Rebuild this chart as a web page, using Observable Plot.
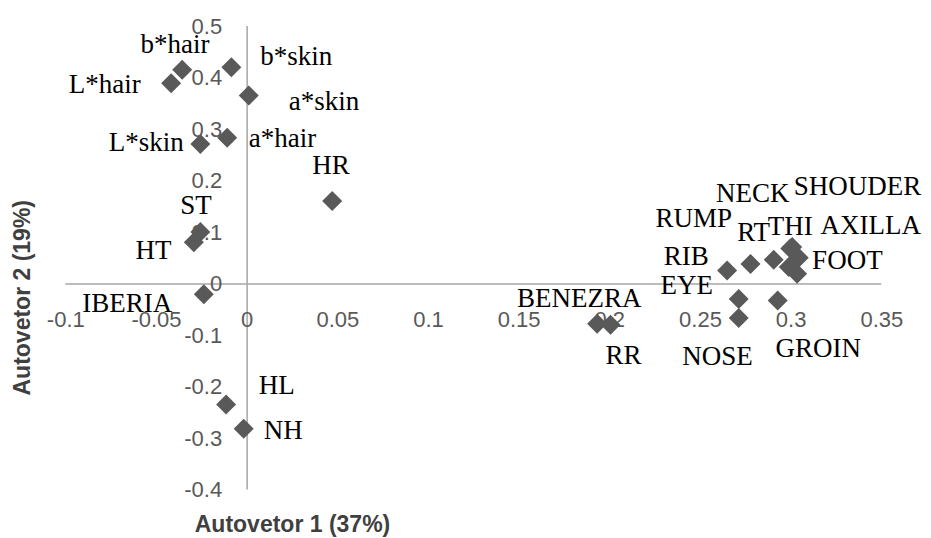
<!DOCTYPE html>
<html><head><meta charset="utf-8">
<script src="https://cdn.jsdelivr.net/npm/d3@7"></script>
<script src="https://cdn.jsdelivr.net/npm/@observablehq/plot@0.6"></script>
<style>
html,body{margin:0;padding:0;background:#fff;}
#chart svg{display:block;}
</style>
</head><body><div id="chart"></div>
<script>
const names = ["b*hair","L*hair","b*skin","a*skin","a*hair","L*skin","HR","ST","HT","IBERIA","HL","NH",
  "BENEZRA","RR","RIB","RT","THI","SHOUDER","NECK","AXILLA","RUMP","FOOT","EYE","NOSE","GROIN"];
const autovetor1 = [-0.0358,-0.0419,-0.0087,0.0009,-0.0110,-0.0258,0.0469,-0.0258,-0.0294,-0.0239,-0.0116,-0.0019,
  0.1930,0.2004,0.2647,0.2776,0.2904,0.3006,0.2995,0.3042,0.2987,0.3033,0.2711,0.2711,0.2926];
const autovetor2 = [0.416,0.390,0.421,0.366,0.284,0.272,0.161,0.101,0.081,-0.020,-0.234,-0.281,
  -0.077,-0.079,0.026,0.039,0.047,0.072,0.069,0.051,0.033,0.020,-0.029,-0.066,-0.032];
const xTicks = [-0.1,-0.05,0,0.05,0.1,0.15,0.2,0.25,0.3,0.35];
const xTickLabels = ["-0.1","-0.05","0","0.05","0.1","0.15","0.2","0.25","0.3","0.35"];
const yTicks = [-0.4,-0.3,-0.2,-0.1,0,0.1,0.2,0.3,0.4,0.5];
const yTickLabels = ["-0.4","-0.3","-0.2","-0.1","0","0.1","0.2","0.3","0.4","0.5"];
const xTitle = "Autovetor 1 (37%)";
const yTitle = "Autovetor 2 (19%)";

// label placement: pixel offsets (left edge, baseline) from each point
const labelOffsets = {
  "b*hair":[-41.7,-16.6], "L*hair":[-102.4,10], "b*skin":[29,-1.7], "a*skin":[40,14.3],
  "a*hair":[21.6,9.4], "L*skin":[-91.7,6.7], "HR":[-20,-27.4], "ST":[-20,-18.4],
  "HT":[-58.3,16.6], "IBERIA":[-121.6,17.7], "HL":[32.6,-10.7], "NH":[20,10],
  "BENEZRA":[-80,-16.6], "RR":[-5,39.7], "RIB":[-63.4,-6], "RT":[-13.3,-23.3],
  "THI":[-6,-24.3], "SHOUDER":[1.6,-51.7], "NECK":[-74.3,-46.3], "AXILLA":[21.7,-23.3],
  "RUMP":[-133.3,-40], "FOOT":[15,-5], "EYE":[-78.3,-5], "NOSE":[-56.6,46.7], "GROIN":[-2.3,56.7]
};

const data = names.map((n,i)=>({name:n, x:autovetor1[i], y:autovetor2[i]}));
const xt = xTicks.map((v,i)=>({v, t:xTickLabels[i]}));
const yt = yTicks.map((v,i)=>({v, t:yTickLabels[i]}));

const sans = "'Liberation Sans', Arial, sans-serif";
const serif = "'Liberation Serif', 'Times New Roman', serif";

const labelMarks = data.map(d => Plot.text([d], {
  x:"x", y:"y", text:"name",
  dx: labelOffsets[d.name][0], dy: labelOffsets[d.name][1],
  textAnchor:"start", lineAnchor:"bottom",
  fontFamily: serif, fontSize: 27, fill:"#000"
}));

const chart = Plot.plot({
  width: 931, height: 538,
  marginLeft: 65.3, marginRight: 49.7, marginTop: 26, marginBottom: 48.5,
  x: {domain:[-0.1,0.35], axis:null},
  y: {domain:[-0.4,0.5], axis:null},
  style: {background:"#fff", overflow:"visible"},
  marks: [
    Plot.ruleY([0], {x1:-0.1, x2:0.35, stroke:"#a6a6a6", strokeWidth:1.5}),
    Plot.ruleX([0], {y1:-0.4, y2:0.5, stroke:"#a6a6a6", strokeWidth:1.5}),
    Plot.text(xt, {x:"v", y:()=>0, text:"t", dy:35.5, lineAnchor:"middle", textAnchor:"middle",
      fontFamily:sans, fontSize:22, fill:"#595959"}),
    Plot.text(yt, {x:()=>0, y:"v", text:"t", dx:-25, lineAnchor:"middle", textAnchor:"end",
      fontFamily:sans, fontSize:22, fill:"#595959"}),
    Plot.dot(data, {x:"x", y:"y", symbol:"diamond2", r:9, fill:"#595959", stroke:"none"}),
    ...labelMarks,
    Plot.text([xTitle], {frameAnchor:"bottom", text:d=>d, dx:-181.3, dy:34.5, lineAnchor:"middle",
      textAnchor:"middle", fontFamily:sans, fontWeight:"bold", fontSize:23, fill:"#404040"}),
    Plot.text([yTitle], {frameAnchor:"left", text:d=>d, rotate:-90, dx:-43, dy:39.5, lineAnchor:"middle",
      textAnchor:"middle", fontFamily:sans, fontWeight:"bold", fontSize:23, fill:"#404040"})
  ]
});
document.getElementById("chart").appendChild(chart);
</script>
</body></html>
